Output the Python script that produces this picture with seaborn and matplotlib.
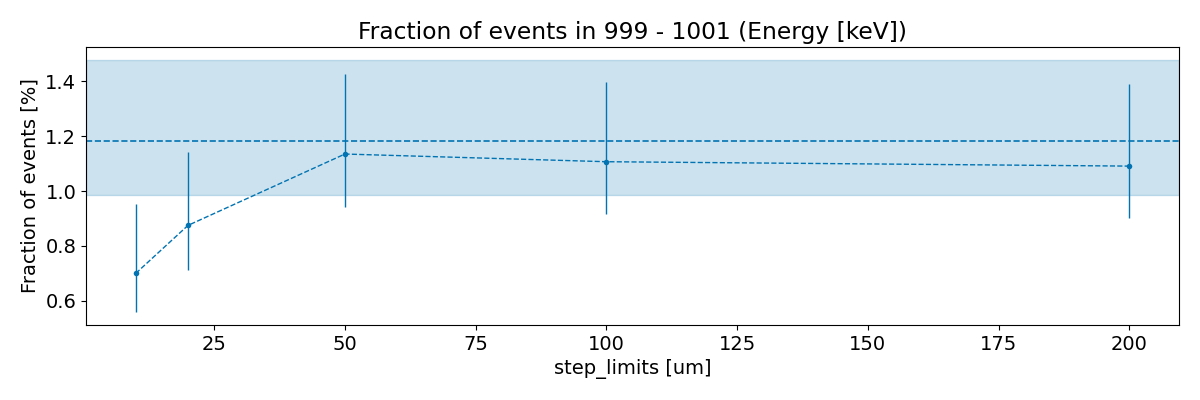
import numpy as np
import pandas as pd
import matplotlib
matplotlib.use("Agg")
import matplotlib.pyplot as plt
import seaborn as sns

# values
step_limits = [10, 20, 50, 100, 200]
fraction = [0.700, 0.875, 1.135, 1.107, 1.091]
err_low = [0.558, 0.712, 0.943, 0.917, 0.903]
err_high = [0.952, 1.141, 1.427, 1.399, 1.390]
ref_value = 1.183
ref_low = 0.984
ref_high = 1.479

sns.set_style("ticks", {"axes.edgecolor": "black", "text.color": "black",
                        "axes.labelcolor": "black", "xtick.color": "black",
                        "ytick.color": "black"})
plt.rcParams["font.family"] = ["DejaVu Sans"]
color = sns.color_palette("colorblind")[0]

df = pd.DataFrame({"step_limits": step_limits, "fraction": fraction})
yerr = np.array([np.array(fraction) - np.array(err_low),
                 np.array(err_high) - np.array(fraction)])

fig, ax = plt.subplots(figsize=(12, 4), dpi=100)
ax.axhspan(ref_low, ref_high, color=color, alpha=0.2, lw=1)
ax.axhline(ref_value, color=color, ls="--", lw=1.2)
sns.lineplot(data=df, x="step_limits", y="fraction", ax=ax, color=color,
             ls="--", lw=1, marker="o", markersize=4, markeredgewidth=0)
ax.errorbar(step_limits, fraction, yerr=yerr, fmt="none", ecolor=color, elinewidth=1)

ax.set_title("Fraction of events in 999 - 1001 (Energy [keV])", fontsize=16.8)
ax.set_xlabel("step_limits [um]", fontsize=14)
ax.set_ylabel("Fraction of events [%]", fontsize=14)
ax.tick_params(labelsize=14)
for s in ax.spines.values():
    s.set_visible(True)

fig.subplots_adjust(left=0.0717, right=0.9825, top=0.8825, bottom=0.1875)
fig.savefig("out.png")
